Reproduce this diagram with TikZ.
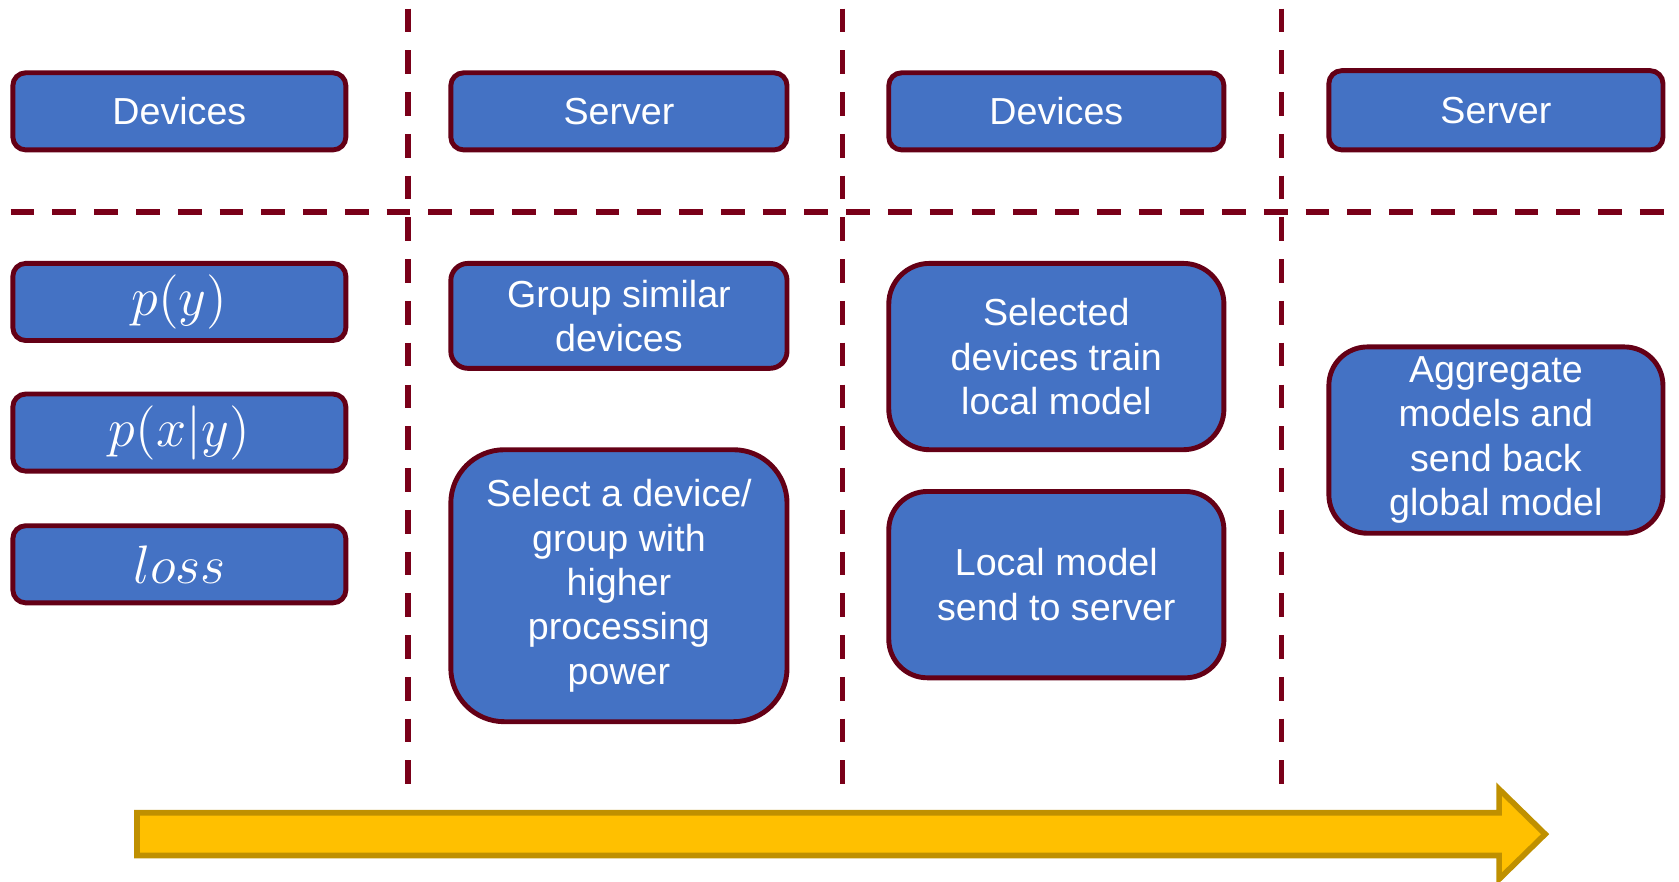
\documentclass[tikz,border=0pt]{standalone}
\usepackage{fontspec}
\setmainfont{Liberation Sans}
\definecolor{boxfill}{HTML}{4472C4}
\definecolor{boxborder}{HTML}{640016}
\definecolor{sepcolor}{HTML}{7A0019}
\definecolor{arrowfill}{HTML}{FFC000}
\definecolor{arrowborder}{HTML}{BF9000}
\begin{document}
\begin{tikzpicture}[
  box/.style={draw=boxborder, fill=boxfill, line width=1.3pt, text=white, align=center,
    font=\fontsize{10}{11.8}\selectfont, inner sep=0pt, rounded corners=0.12cm},
  mbox/.style={box, font=\fontsize{14}{16}\selectfont},
  sepline/.style={draw=sepcolor, line width=1.4pt, dash pattern=on 6.3pt off 4.8pt},
  timearrow/.style={fill=arrowfill, draw=arrowborder, line width=1.5pt, line join=miter}
]
\useasboundingbox (0,0) rectangle (15.68,8.23);

% separators
\coordinate (v1t) at (3.81,8.15); \coordinate (v1b) at (3.81,0.88);
\coordinate (v2t) at (7.87,8.15); \coordinate (v2b) at (7.87,0.88);
\coordinate (v3t) at (11.97,8.15); \coordinate (v3b) at (11.97,0.88);
\coordinate (hl) at (0.10,6.25); \coordinate (hr) at (15.65,6.25);
\draw[sepline] (v1t) -- (v1b);
\draw[sepline] (v2t) -- (v2b);
\draw[sepline] (v3t) -- (v3b);
\draw[sepline] (hl) -- (hr);

% column 1
\node[box, minimum width=3.11cm, minimum height=0.72cm] (dev1) at (1.675,7.19) {Devices};
\node[mbox, minimum width=3.11cm, minimum height=0.72cm] (py) at (1.675,5.41) {$p(y)$};
\node[mbox, minimum width=3.11cm, minimum height=0.72cm] (pxy) at (1.675,4.19) {$p(x|y)$};
\node[mbox, minimum width=3.11cm, minimum height=0.72cm] (loss) at (1.675,2.96) {$loss$};

% column 2
\node[box, minimum width=3.14cm, minimum height=0.72cm] (srv1) at (5.78,7.19) {Server};
\node[box, minimum width=3.14cm, minimum height=0.98cm, rounded corners=0.16cm] (group) at (5.78,5.28) {Group similar\\devices};
\node[box, minimum width=3.14cm, minimum height=2.54cm, rounded corners=0.5cm] (select) at (5.78,2.76) {Select a device/\\group with\\higher\\processing\\power};

% column 3
\node[box, minimum width=3.13cm, minimum height=0.72cm] (dev2) at (9.865,7.19) {Devices};
\node[box, minimum width=3.13cm, minimum height=1.74cm, rounded corners=0.38cm] (train) at (9.865,4.90) {Selected\\devices train\\local model};
\node[box, minimum width=3.13cm, minimum height=1.74cm, rounded corners=0.36cm] (send) at (9.865,2.77) {Local model\\send to server};

% column 4
\node[box, minimum width=3.12cm, minimum height=0.74cm] (srv2) at (13.97,7.20) {Server};
\node[box, minimum width=3.12cm, minimum height=1.74cm, rounded corners=0.36cm] (agg) at (13.97,4.12) {Aggregate\\models and\\send back\\global model};

% time arrow
\draw[timearrow] (1.28,0.64) -- (14.00,0.64) -- (14.00,0.86) -- (14.43,0.44)
  -- (14.00,0.02) -- (14.00,0.24) -- (1.28,0.24) -- cycle;
\end{tikzpicture}
\end{document}
